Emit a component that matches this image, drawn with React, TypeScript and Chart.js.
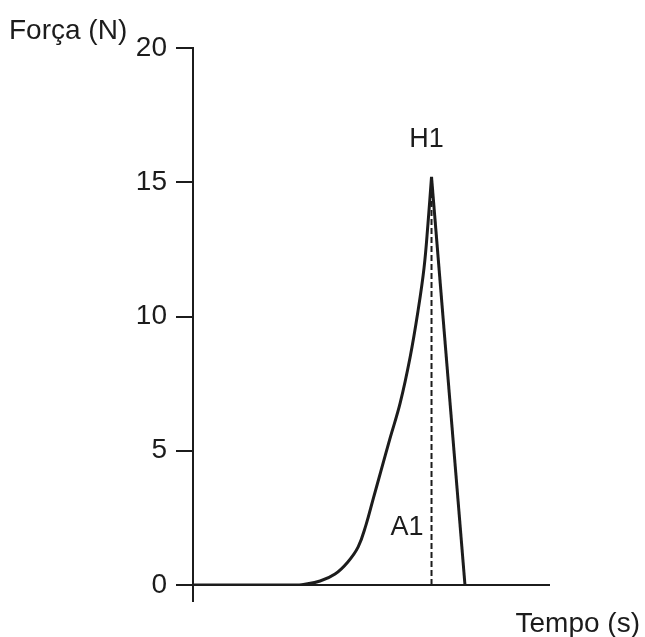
import React, { useEffect, useRef } from "react";
import { Chart, registerables } from "chart.js";

Chart.register(...registerables);

// Tempo (s) — arbitrary units along the axis (no tick labels in the source)
const flatTimes = [0, 3.01];
const flatForces = [0, 0];
const riseTimes = [3.01, 3.57, 3.99, 4.35, 4.64, 4.86, 5.06, 5.28, 5.53, 5.82, 6.1, 6.32, 6.49, 6.6, 6.7];
const riseForces = [0, 0.15, 0.41, 0.86, 1.42, 2.24, 3.2, 4.25, 5.44, 6.78, 8.49, 10.2, 11.81, 13.45, 15.2];
const fallTimes = [6.7, 7.64];
const fallForces = [15.2, 0];
const peakTime = 6.7;
const peakForce = 15.2;
const yTicks = [0, 5, 10, 15, 20];
const annotations = [
  { text: "H1", t: 6.56, f: 16.31 },
  { text: "A1", t: 6.01, f: 1.86 },
];
const yTitle = "Força (N)";
const xTitle = "Tempo (s)";

const FONT = "'Liberation Sans', Arial, Helvetica, sans-serif";
const INK = "#1c1c1c";

const toPts = (xs: number[], ys: number[]) => xs.map((t, i) => ({ x: t, y: ys[i] }));

export default function App() {
  const ref = useRef<HTMLCanvasElement | null>(null);

  useEffect(() => {
    document.body.style.margin = "0";
    document.body.style.overflow = "hidden";
    const canvas = ref.current;
    if (!canvas) return;

    const labelPlugin = {
      id: "labels",
      afterDraw(chart: any) {
        const ctx = chart.ctx;
        const xs = chart.scales.x;
        const ys = chart.scales.y;
        ctx.save();
        ctx.fillStyle = INK;
        ctx.font = `27px ${FONT}`;
        ctx.textBaseline = "alphabetic";
        ctx.textAlign = "center";
        for (const a of annotations) {
          ctx.fillText(a.text, xs.getPixelForValue(a.t), ys.getPixelForValue(a.f));
        }
        ctx.font = `28px ${FONT}`;
        ctx.textAlign = "left";
        ctx.fillText(yTitle, 9, 39);
        ctx.textAlign = "right";
        ctx.fillText(xTitle, chart.width - 5, 632);
        ctx.restore();
      },
    };

    const lineStyle = {
      borderColor: INK,
      borderWidth: 3,
      pointRadius: 0,
      fill: false,
    };

    const chart = new Chart(canvas, {
      type: "line",
      data: {
        datasets: [
          { ...lineStyle, data: toPts(flatTimes, flatForces), tension: 0 },
          { ...lineStyle, data: toPts(riseTimes, riseForces), tension: 0.4 },
          { ...lineStyle, data: toPts(fallTimes, fallForces), tension: 0 },
          {
            data: [
              { x: peakTime, y: 0 },
              { x: peakTime, y: peakForce },
            ],
            borderColor: INK,
            borderWidth: 2,
            borderDash: [6, 3],
            pointRadius: 0,
            tension: 0,
            fill: false,
          },
        ],
      },
      options: {
        responsive: false,
        animation: false,
        devicePixelRatio: 1,
        layout: { padding: { top: 48, right: 96, left: 0, bottom: 0 } },
        plugins: {
          legend: { display: false },
          tooltip: { enabled: false },
          title: { display: false },
        },
        scales: {
          x: {
            type: "linear",
            min: 0,
            max: 10,
            afterBuildTicks: (axis: any) => {
              axis.ticks = [{ value: 0 }];
            },
            afterFit: (axis: any) => {
              axis.height = 52;
            },
            ticks: { display: false },
            grid: {
              display: true,
              drawOnChartArea: false,
              drawTicks: true,
              tickLength: 17,
              color: INK,
              lineWidth: 2,
            },
            border: { display: true, color: INK, width: 2 },
          },
          y: {
            type: "linear",
            min: 0,
            max: 20,
            afterBuildTicks: (axis: any) => {
              axis.ticks = yTicks.map((v) => ({ value: v }));
            },
            afterFit: (axis: any) => {
              axis.width = 193;
            },
            ticks: {
              color: INK,
              padding: 9,
              font: { family: FONT, size: 28 },
            },
            grid: {
              display: true,
              drawOnChartArea: false,
              drawTicks: true,
              tickLength: 17,
              color: INK,
              lineWidth: 2,
            },
            border: { display: true, color: INK, width: 2 },
          },
        },
      },
      plugins: [labelPlugin],
    } as any);

    return () => chart.destroy();
  }, []);

  return (
    <div style={{ width: 645, height: 637 }}>
      <canvas ref={ref} width={645} height={637} style={{ display: "block" }} />
    </div>
  );
}
